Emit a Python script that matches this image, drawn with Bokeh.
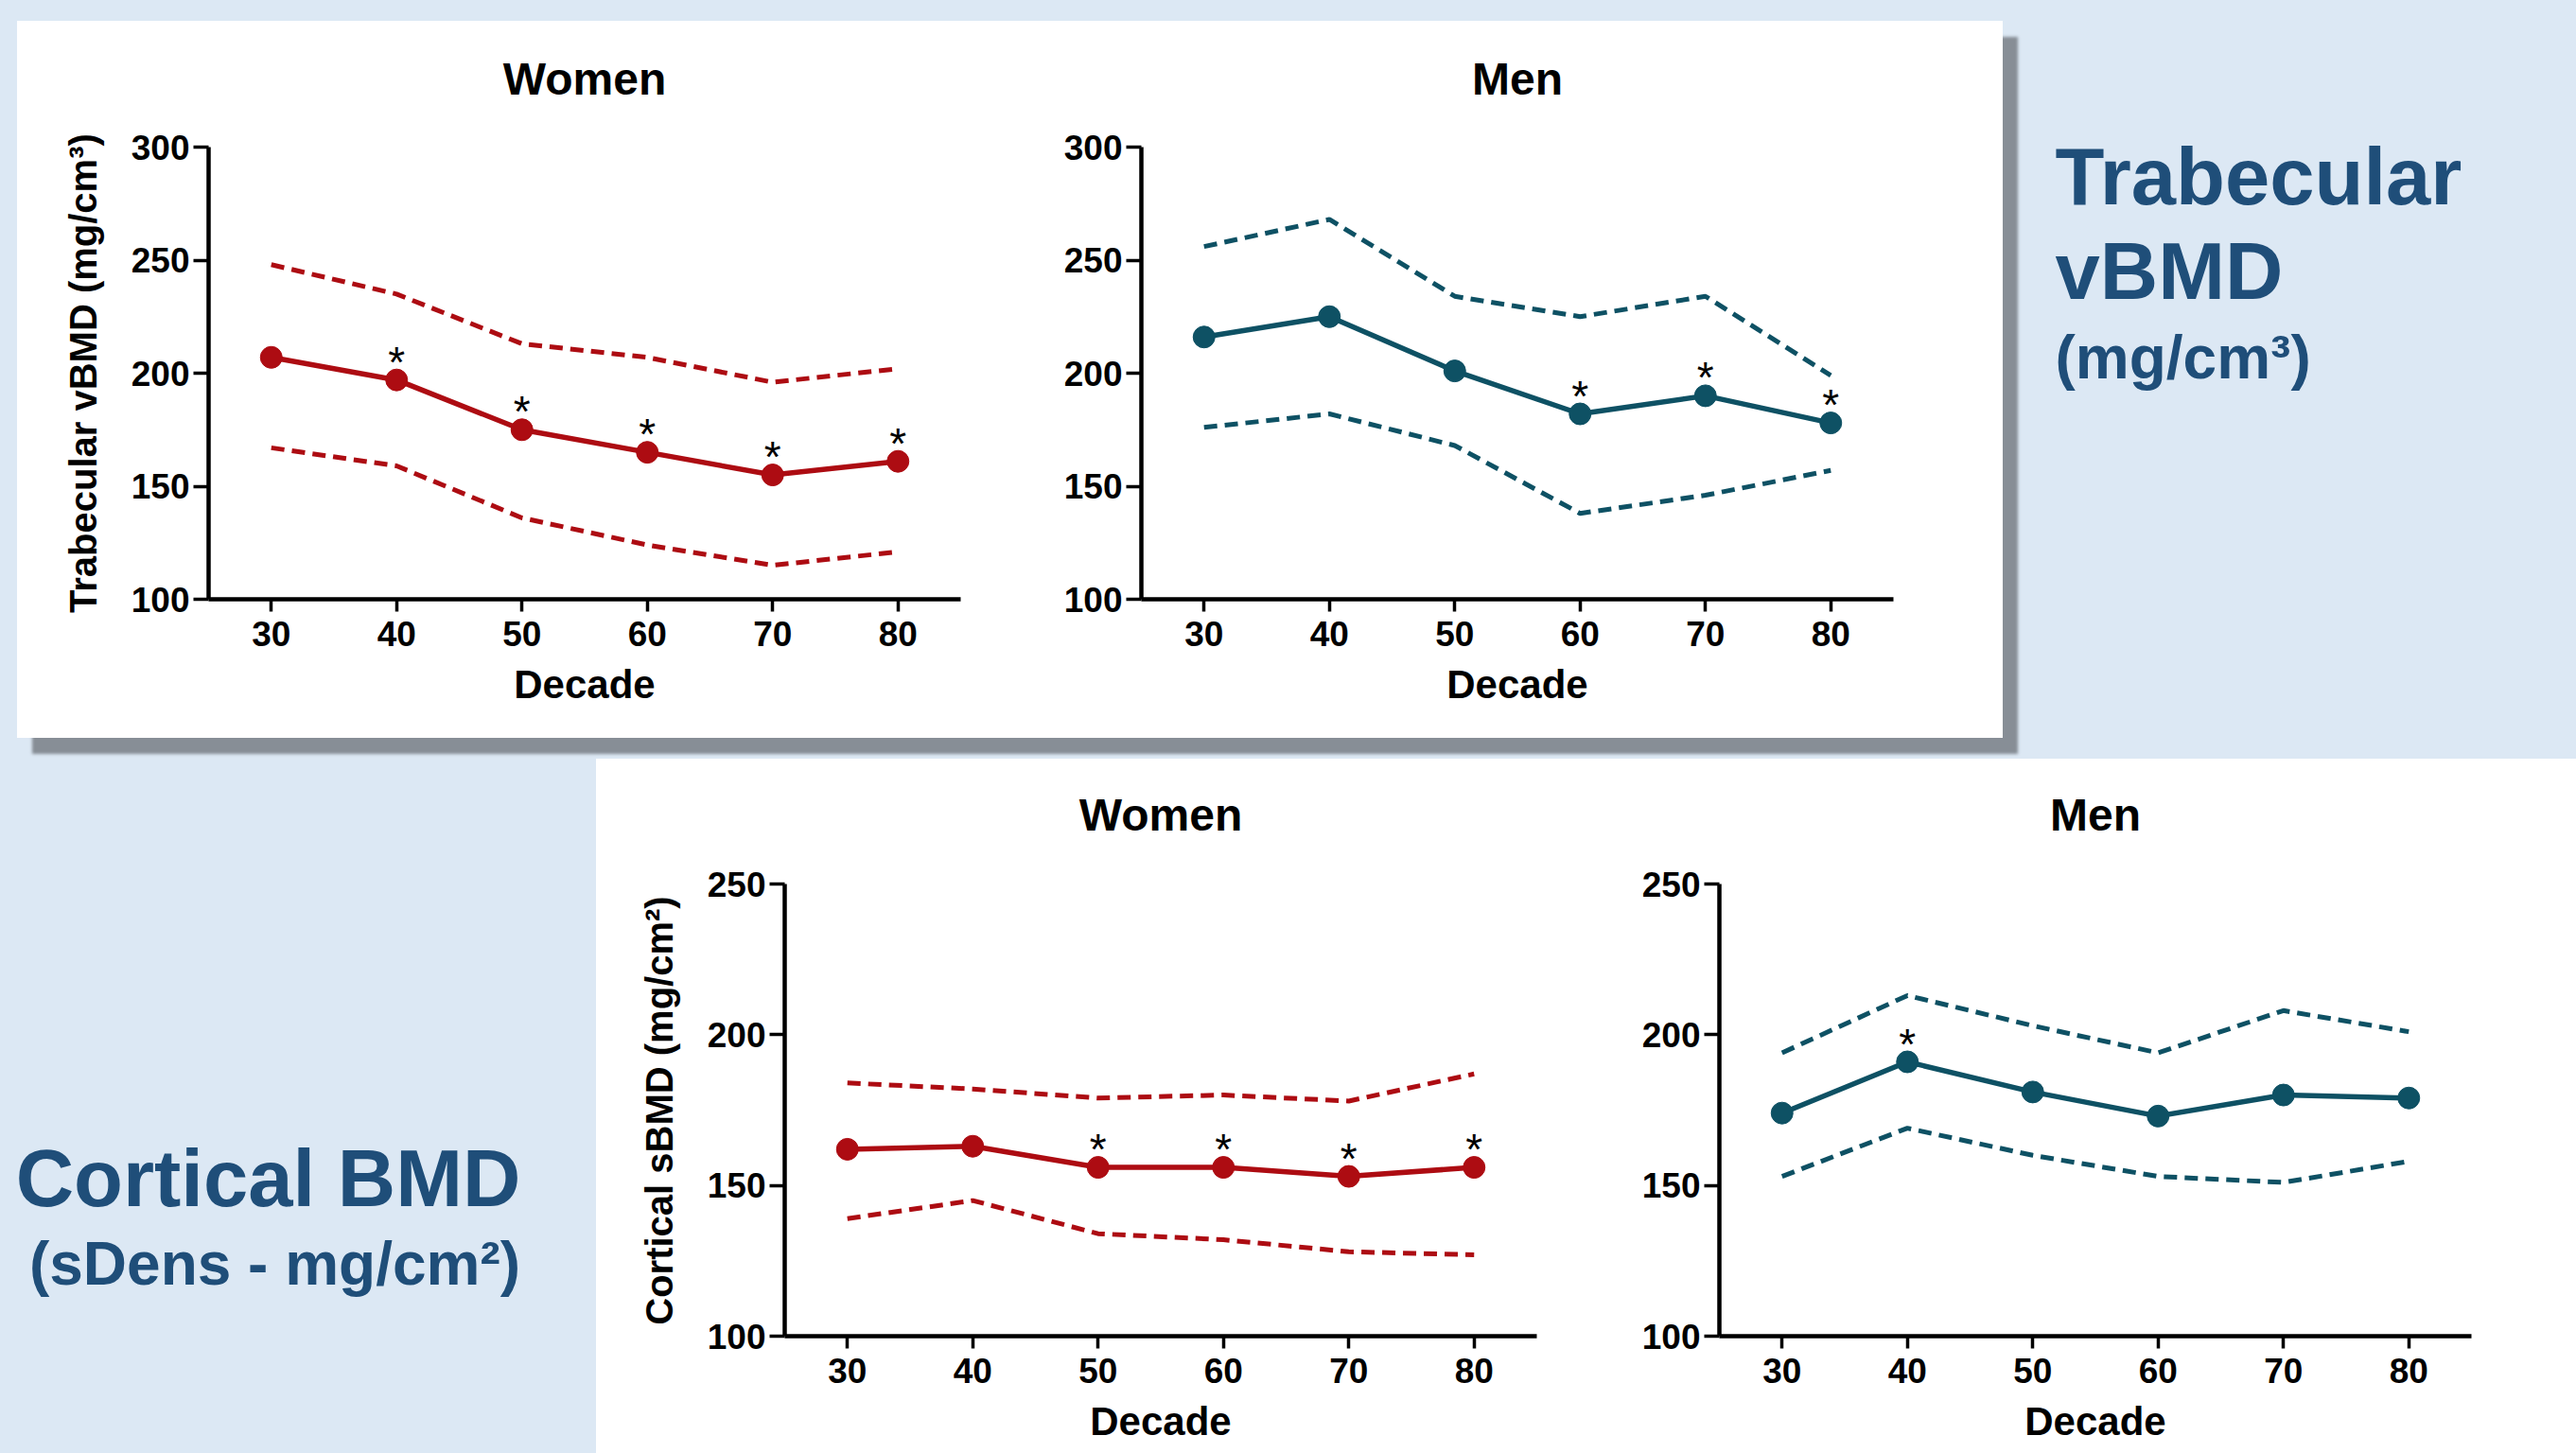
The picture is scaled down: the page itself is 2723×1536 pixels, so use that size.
from bokeh.plotting import figure
from bokeh.layouts import row, column
from bokeh.models import Range1d, FixedTicker, Spacer, Label, ColumnDataSource
from bokeh.embed import file_html
from bokeh.resources import INLINE
from bokeh.core.properties import value

# ---------------- data ----------------
decades = [30, 40, 50, 60, 70, 80]

trab_women_mean = [207, 197, 175, 165, 155, 161]
trab_women_upper = [248, 235, 213, 207, 196, 202]
trab_women_lower = [167, 159, 136, 124, 115, 121]
trab_women_sig = [False, True, True, True, True, True]

trab_men_mean = [216, 225, 201, 182, 190, 178]
trab_men_upper = [256, 268, 234, 225, 234, 199]
trab_men_lower = [176, 182, 168, 138, 146, 157]
trab_men_sig = [False, False, False, True, True, True]

cort_women_mean = [162, 163, 156, 156, 153, 156]
cort_women_upper = [184, 182, 179, 180, 178, 187]
cort_women_lower = [139, 145, 134, 132, 128, 127]
cort_women_sig = [False, False, True, True, True, True]

cort_men_mean = [174, 191, 181, 173, 180, 179]
cort_men_upper = [194, 213, 203, 194, 208, 201]
cort_men_lower = [153, 169, 160, 153, 151, 158]
cort_men_sig = [False, True, False, False, False, False]

trab_yticks = [100, 150, 200, 250, 300]
cort_yticks = [100, 150, 200, 250]

# ---------------- style ----------------
RED = "#AD0C12"
TEAL = "#0E5164"
BLUE_BG = "#DCE8F4"
DARK_BLUE = "#1F4E79"
FONT = "Liberation Sans"
FRAME_W = 795
AXIS_H = 478        # pixel height of the drawn y axis
TOP_PAD = 22        # frame starts this far below the panel top
NBSP = "\u00a0"


def make_chart(title, ylabel, yticks, mean, upper, lower, sig, color,
               left, right, axis_top, bottom, title_center):
    # the frame extends above the axis so that the title can sit inside it;
    # the y axis itself is bounded to the tick range.
    extra = axis_top - TOP_PAD
    upp = (yticks[-1] - yticks[0]) / AXIS_H
    y_end = yticks[-1] + extra * upp
    p = figure(frame_width=FRAME_W, frame_height=AXIS_H + extra,
               x_range=Range1d(25, 85), y_range=Range1d(yticks[0], y_end),
               output_backend="svg", toolbar_location=None,
               min_border_left=left, min_border_right=right,
               min_border_top=TOP_PAD, min_border_bottom=bottom)
    p.background_fill_color = "white"
    p.border_fill_color = "white"
    p.outline_line_color = None
    p.xgrid.visible = False
    p.ygrid.visible = False

    title_y = yticks[-1] + (axis_top - title_center) * upp
    tsrc = ColumnDataSource(dict(x=[55], y=[title_y], t=[title]))
    p.text(x="x", y="y", text="t", source=tsrc, text_font=value(FONT),
           text_font_size="48px", text_font_style="bold", text_color="black",
           text_align="center", text_baseline="middle")

    for ax in (p.xaxis[0], p.yaxis[0]):
        ax.axis_line_width = 4.5
        ax.axis_line_color = "black"
        ax.major_tick_line_width = 3.5
        ax.major_tick_line_color = "black"
        ax.minor_tick_line_color = None
        ax.major_tick_in = 0
        ax.major_label_text_font = FONT
        ax.major_label_text_font_size = "37px"
        ax.major_label_text_font_style = "bold"
        ax.major_label_text_color = "black"
        ax.axis_label_text_font = FONT
        ax.axis_label_text_font_size = "42px"
        ax.axis_label_text_font_style = "bold"
        ax.axis_label_text_color = "black"

    p.xaxis.ticker = FixedTicker(ticks=decades)
    p.yaxis.ticker = FixedTicker(ticks=yticks)
    p.yaxis.bounds = (yticks[0], yticks[-1])
    p.xaxis.major_tick_out = 13
    p.yaxis.major_tick_out = 16
    p.xaxis.major_label_standoff = 10
    p.yaxis.major_label_standoff = 4
    p.xaxis.axis_label = "Decade"
    p.xaxis.axis_label_standoff = 14
    p.yaxis.axis_label_text_font_size = "40px"
    if ylabel:
        # trailing no-break spaces re-centre the rotated label on the bounded axis
        p.yaxis.axis_label = ylabel + NBSP * 10
        p.yaxis.axis_label_standoff = 26

    p.line(decades, upper, line_color=color, line_width=5, line_dash="14 8")
    p.line(decades, lower, line_color=color, line_width=5, line_dash="14 8")
    p.line(decades, mean, line_color=color, line_width=5.5)
    p.scatter(decades, mean, size=23, fill_color=color, line_color=color)

    sx = [d for d, s in zip(decades, sig) if s]
    sy = [m for m, s in zip(mean, sig) if s]
    src = ColumnDataSource(dict(x=sx, y=sy, t=["*"] * len(sx)))
    p.text(x="x", y="y", text="t", source=src, text_font=value(FONT),
           text_font_size="46px", text_align="center", text_baseline="middle",
           text_color="black", y_offset=-19)
    return p


def text_panel(width, height, items):
    p = figure(width=width, height=height, x_range=Range1d(0, 1), y_range=Range1d(0, 1),
               output_backend="svg", toolbar_location=None, min_border=0,
               x_axis_location=None, y_axis_location=None)
    p.xgrid.visible = False
    p.ygrid.visible = False
    p.outline_line_color = None
    p.background_fill_alpha = 0
    p.border_fill_alpha = 0
    for x, y_top, txt, size, align in items:
        p.add_layout(Label(x=x, y=height - y_top, x_units="screen", y_units="screen",
                           text=txt, text_font=FONT, text_font_size=f"{size}px",
                           text_font_style="bold", text_color=DARK_BLUE,
                           text_align=align, text_baseline="alphabetic"))
    return p


# top panel charts (panel 2099 x 758)
tl = make_chart("Women", "Trabecular vBMD (mg/cm³)", trab_yticks,
                trab_women_mean, trab_women_upper, trab_women_lower, trab_women_sig, RED,
                left=202, right=93, axis_top=133, bottom=147, title_center=61)
tr = make_chart("Men", None, trab_yticks,
                trab_men_mean, trab_men_upper, trab_men_lower, trab_men_sig, TEAL,
                left=98, right=116, axis_top=133, bottom=147, title_center=61)

# bottom panel charts (panel 2093 x 734)
bl = make_chart("Women", "Cortical sBMD (mg/cm²)", cort_yticks,
                cort_women_mean, cort_women_upper, cort_women_lower, cort_women_sig, RED,
                left=199, right=96, axis_top=132, bottom=124, title_center=59)
br = make_chart("Men", None, cort_yticks,
                cort_men_mean, cort_men_upper, cort_men_lower, cort_men_sig, TEAL,
                left=97, right=111, axis_top=132, bottom=124, title_center=59)

top_panel = row(tl, tr, spacing=0,
                styles={"background-color": "white",
                        "box-shadow": "16px 17px 3px #878E96"})
bottom_panel = row(bl, br, spacing=0, styles={"background-color": "white"})

right_text = text_panel(606, 758, [
    (55, 164, "Trabecular", 85, "left"),
    (55, 264, "vBMD", 85, "left"),
    (55, 355, "(mg/cm³)", 64, "left"),
])
left_text = text_panel(630, 734, [
    (283, 443, "Cortical BMD", 85, "center"),
    (290, 533, "(sDens - mg/cm²)", 64, "center"),
])

layout = column(
    Spacer(width=2723, height=22),
    row(Spacer(width=18, height=758), top_panel, right_text, spacing=0),
    Spacer(width=2723, height=22),
    row(left_text, bottom_panel, spacing=0),
    spacing=0,
    styles={"background-color": BLUE_BG},
)

open("out.html", "w").write(file_html(layout, INLINE))
